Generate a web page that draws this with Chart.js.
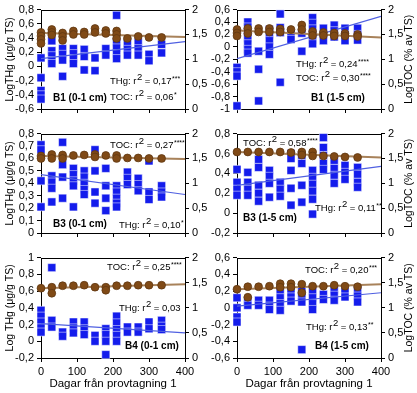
<!DOCTYPE html>
<html>
<head>
<meta charset="utf-8">
<script src="https://cdn.jsdelivr.net/npm/chart.js@4.4.1/dist/chart.umd.min.js"></script>
<style>
  html, body { margin: 0; padding: 0; background: #fff; }
  #wrap { position: relative; width: 417px; height: 393px; overflow: hidden; }
  #wrap canvas { position: absolute; }
</style>
</head>
<body>
<div id="wrap"></div>
<script>
// sampling days (x)
const days = [0, 30, 60, 90, 120, 150, 180, 210, 240, 270, 300, 335];

// B1 (0-1 cm): one inner list per sampling day
const thgB1a = [[0.12, -0.16, -0.34, -0.40, -0.46], [0.36, 0.22, 0.15, 0.08, 0.04], [0.25, 0.17, 0.09, -0.14],
  [0.25, 0.18, 0.11, 0.04], [0.24, 0.14, -0.05], [0.12, -0.06], [0.25, 0.16], [0.72, 0.34, 0.26, 0.18, 0.11],
  [0.33, 0.24, 0.16], [0.34, 0.25, 0.16], [0.17, 0.08], [0.31, 0.19]];
const tocB1a = [[1.54, 1.47, 1.40, 1.32], [1.60, 1.54, 1.49], [1.53, 1.46, 1.38], [1.57, 1.50], [1.55, 1.50],
  [1.62, 1.54], [1.58, 1.52], [1.57, 1.50, 1.42], [1.42], [1.46], [1.44], [1.44]];
const fitThgB1a = [0.11, 0.35];
const fitTocB1a = [1.53, 1.45];

// B1 (1-5 cm)
const thgB1b = [[-0.33, -0.40, -0.47, -0.95], [0.40, 0.32, 0.24, 0.14, 0.05, -0.04, -0.10], [-0.07, -0.36, -0.87],
  [0.28, 0.20, 0.10, 0.00, -0.12], [0.53, 0.31, 0.23, -0.57], [0.21, 0.12], [0.22, -0.07],
  [0.47, 0.38, 0.29, 0.20, 0.11, 0.05], [0.30, 0.20, 0.10], [0.35, 0.26, 0.16], [0.30, 0.20, 0.10], [0.30, 0.20, 0.11]];
const tocB1b = [[1.60, 1.53, 1.47], [1.62, 1.52], [1.62, 1.55], [1.62, 1.55], [1.61, 1.55], [1.60],
  [1.69, 1.60], [1.56, 1.48], [1.54, 1.48], [1.53, 1.47], [1.52, 1.47], [1.50, 1.46]];
const fitThgB1b = [-0.19, 0.49];
const fitTocB1b = [1.58, 1.44];

// B3 (0-1 cm)
const thgB3a = [[0.71, 0.67, 0.42, 0.21], [0.46, 0.41, 0.36, 0.25], [0.73, 0.55, 0.45, 0.28],
  [0.52, 0.47, 0.42, 0.38, 0.21], [0.50, 0.45, 0.40, 0.35, 0.31], [0.67, 0.50, 0.33, 0.24], [0.52, 0.38, 0.28, 0.18],
  [0.38, 0.33, 0.28, 0.24, 0.21], [0.49, 0.44, 0.39], [0.44, 0.39, 0.34], [0.58, 0.33, 0.27], [0.38, 0.33, 0.29]];
const tocB3a = [[1.55, 1.50], [1.58, 1.50], [1.57, 1.50], [1.56], [1.57], [1.58, 1.53], [1.56], [1.56, 1.50],
  [1.51], [1.51], [1.50], [1.50]];
const fitThgB3a = [0.47, 0.31];
const fitTocB3a = [1.55, 1.49];

// B3 (1-5 cm)
const thgB3b = [[0.44, 0.31, 0.24, 0.18], [0.41, 0.31, 0.24, 0.18], [0.54, 0.46, 0.28, 0.20, 0.12],
  [0.43, 0.37, 0.30, 0.16], [0.31, 0.24, 0.17], [0.60, 0.55, 0.43, 0.25, 0.08], [0.58, 0.50, 0.28, 0.11],
  [0.43, 0.36, 0.29, 0.22, 0.14, -0.01], [0.76, 0.66, 0.58, 0.50, 0.44], [0.53, 0.45, 0.38, 0.30],
  [0.48, 0.41, 0.34], [0.46, 0.39, 0.31, 0.26]];
const tocB3b = [[1.63], [1.63], [1.63], [1.63], [1.63], [1.62], [1.63, 1.57], [1.63, 1.55], [1.55], [1.54],
  [1.53], [1.52]];
const fitThgB3b = [0.28, 0.47];
const fitTocB3b = [1.63, 1.52];

// B4 (0-1 cm)
const thgB4a = [[0.37, 0.30, 0.23, 0.16, 0.11], [0.88, 0.25, 0.17], [0.11, 0.06], [0.23, 0.16, 0.10],
  [0.23, 0.15, 0.08], [0.07, 0.00], [0.15, 0.08, 0.00, -0.16], [0.30, 0.22, 0.14, 0.07, 0.00], [0.17, 0.11],
  [0.17, 0.11], [0.23, 0.15], [0.25, 0.18, 0.14]];
const tocB4a = [[1.39], [1.41, 1.29], [1.44], [1.44], [1.45], [1.41], [1.41, 1.35], [1.44], [1.44], [1.45],
  [1.45], [1.45]];
const fitThgB4a = [0.21, 0.10];
const fitTocB4a = [1.39, 1.47];

// B4 (1-5 cm)
const thgB4b = [[0.12, 0.00, -0.11, -0.17], [0.09, 0.03], [0.09, 0.03], [0.09, 0.02, -0.02],
  [0.21, 0.12, 0.05, -0.03], [0.20, 0.13, 0.08], [0.20, 0.13, 0.07, -0.50], [0.20, 0.12, 0.05, -0.02],
  [0.16, 0.10], [0.22, 0.15, 0.09], [0.19, 0.13], [0.21, 0.14, 0.07]];
const tocB4b = [[1.37], [1.42, 1.21], [1.42], [1.43], [1.48, 1.41], [1.48, 1.41], [1.47, 1.30], [1.43], [1.43],
  [1.45], [1.43], [1.42]];
const fitThgB4b = [0.02, 0.18];
const fitTocB4b = [1.37, 1.47];

// left axis ranges [min, max, step]
const yB1a = [-0.6, 0.8, 0.2];
const yB1b = [-1, 0.6, 0.2];
const yB3a = [0, 0.8, 0.1];
const yB3b = [-0.2, 0.8, 0.2];
const yB4a = [-0.2, 1, 0.2];
const yB4b = [-0.6, 0.6, 0.2];
const yToc = [0, 2, 0.5];
const xDays = [0, 400, 100];

const FONT = '"Liberation Sans", Arial, Helvetica, sans-serif';
const blue = 'rgb(20, 28, 236)';
const brown = 'rgb(128, 74, 22)';
const brownEdge = 'rgb(95, 55, 18)';
const blueLine = 'rgb(80, 96, 225)';
const brownLine = 'rgb(168, 130, 90)';

Chart.defaults.font.family = FONT;
Chart.defaults.font.size = 11;
Chart.defaults.color = '#000';

const panels = [
  { row: 0, col: 0, thg: thgB1a, toc: tocB1a, fThg: fitThgB1a, fToc: fitTocB1a, y: yB1a, title: 'LogTHg (μg/g TS)',
    notes: [{ dx: 69, dy: 72, lead: 'THg: r', val: ' = 0,17', stars: '***' },
            { dx: 69, dy: 88, lead: 'TOC: r', val: ' = 0,06', stars: '*' },
            { dx: 12, dy: 89, bold: 'B1 (0-1 cm)' }] },
  { row: 0, col: 1, thg: thgB1b, toc: tocB1b, fThg: fitThgB1b, fToc: fitTocB1b, y: yB1b,
    notes: [{ dx: 59, dy: 55, lead: 'THg: r', val: ' = 0,24', stars: '****' },
            { dx: 59, dy: 69, lead: 'TOC: r', val: ' = 0,30', stars: '****' },
            { dx: 74, dy: 89, bold: 'B1 (1-5 cm)' }] },
  { row: 1, col: 0, thg: thgB3a, toc: tocB3a, fThg: fitThgB3a, fToc: fitTocB3a, y: yB3a, title: 'LogTHg (μg/g TS)',
    notes: [{ dx: 69, dy: 12, lead: 'TOC: r', val: ' = 0,27', stars: '****' },
            { dx: 78, dy: 92, lead: 'THg: r', val: ' = 0,10', stars: '*' },
            { dx: 12, dy: 91, bold: 'B3 (0-1 cm)' }] },
  { row: 1, col: 1, thg: thgB3b, toc: tocB3b, fThg: fitThgB3b, fToc: fitTocB3b, y: yB3b,
    notes: [{ dx: 6, dy: 10, lead: 'TOC: r', val: ' = 0,58', stars: '****' },
            { dx: 78, dy: 75, lead: 'THg: r', val: ' = 0,11', stars: '**' },
            { dx: 6, dy: 85, bold: 'B3 (1-5 cm)' }] },
  { row: 2, col: 0, thg: thgB4a, toc: tocB4a, fThg: fitThgB4a, fToc: fitTocB4a, y: yB4a, title: 'Log THg (μg/g TS)',
    notes: [{ dx: 66, dy: 10, lead: 'TOC: r', val: ' = 0,25', stars: '****' },
            { dx: 78, dy: 51, lead: 'THg: r', val: ' = 0,03', stars: '' },
            { dx: 84, dy: 89, bold: 'B4 (0-1 cm)' }] },
  { row: 2, col: 1, thg: thgB4b, toc: tocB4b, fThg: fitThgB4b, fToc: fitTocB4b, y: yB4b,
    notes: [{ dx: 68, dy: 13, lead: 'TOC: r', val: ' = 0,20', stars: '***' },
            { dx: 69, dy: 70, lead: 'THg: r', val: ' = 0,13', stars: '**' },
            { dx: 78, dy: 89, bold: 'B4 (1-5 cm)' }] }
];

const rowTop = [0, 124, 248];
const rowH = [124, 124, 145];
const colLeft = [0, 208];
const colW = [208, 209];

function pts(vals) {
  return days.flatMap((d, i) => vals[i].map(v => ({ x: d, y: v })));
}
function fitPts(ends) {
  return [{ x: xDays[0], y: ends[0] }, { x: xDays[1], y: ends[1] }];
}
function fmt(v) {
  return String(Math.round(v * 10) / 10).replace('.', ',');
}

function drawNote(ctx, x, y, n) {
  ctx.fillStyle = '#000';
  ctx.textBaseline = 'middle';
  ctx.textAlign = 'left';
  if (n.bold) {
    ctx.font = 'bold 10px ' + FONT;
    ctx.fillText(n.bold, x, y);
    return;
  }
  ctx.font = '9.5px ' + FONT;
  ctx.fillText(n.lead, x, y);
  x += ctx.measureText(n.lead).width + 0.5;
  ctx.fillText('2', x, y - 4);
  x += ctx.measureText('2').width;
  ctx.fillText(n.val, x, y);
  x += ctx.measureText(n.val).width + 0.5;
  if (n.stars) {
    ctx.font = '7px ' + FONT;
    ctx.fillText(n.stars, x, y - 3);
  }
}

function decoPlugin(p) {
  return {
    id: 'deco',
    beforeDatasetsDraw(chart) {
      const { ctx, chartArea: a } = chart;
      ctx.save();
      ctx.strokeStyle = '#000';
      ctx.lineWidth = 1;
      ctx.strokeRect(Math.round(a.left) + 0.5, Math.round(a.top) + 0.5,
        Math.round(a.right - a.left), Math.round(a.bottom - a.top));
      ctx.restore();
    },
    afterDraw(chart) {
      const { ctx, chartArea: a } = chart;
      ctx.save();
      p.notes.forEach(n => drawNote(ctx, a.left + n.dx, a.top + n.dy, n));
      if (p.col === 1) {
        ctx.translate(chart.width - 8, (a.top + a.bottom) / 2);
        ctx.rotate(-Math.PI / 2);
        ctx.font = '10.5px ' + FONT;
        ctx.textAlign = 'center';
        ctx.textBaseline = 'middle';
        ctx.fillText('LogTOC (% av TS)', 0, 0);
      }
      ctx.restore();
    }
  };
}

const tickGrid = { drawOnChartArea: false, drawTicks: true, tickLength: 4, color: '#000', lineWidth: 1 };
const wrap = document.getElementById('wrap');

panels.forEach(p => {
  const canvas = document.createElement('canvas');
  canvas.width = colW[p.col];
  canvas.height = rowH[p.row];
  canvas.style.left = colLeft[p.col] + 'px';
  canvas.style.top = rowTop[p.row] + 'px';
  wrap.appendChild(canvas);

  const left = p.col === 0;
  const bottom = p.row === 2;

  new Chart(canvas.getContext('2d'), {
    type: 'scatter',
    data: {
      datasets: [
        { data: pts(p.toc), yAxisID: 'y2', pointStyle: 'circle', pointRadius: 3.9, backgroundColor: brown,
          borderColor: brownEdge, borderWidth: 0.8, order: 0, clip: false },
        { data: fitPts(p.fToc), yAxisID: 'y2', showLine: true, pointRadius: 0, borderColor: brownLine,
          borderWidth: 2, order: 1 },
        { data: fitPts(p.fThg), yAxisID: 'y', showLine: true, pointRadius: 0, borderColor: blueLine,
          borderWidth: 1.2, order: 2 },
        { data: pts(p.thg), yAxisID: 'y', pointStyle: 'rect', pointRadius: 5.7, backgroundColor: blue,
          borderColor: 'rgba(255,255,255,0.85)', borderWidth: 0.6, order: 3, clip: false }
      ]
    },
    options: {
      responsive: false,
      animation: false,
      events: [],
      layout: { padding: { top: bottom ? 9 : 8, left: 0, right: 0, bottom: 0 } },
      plugins: { legend: { display: false }, tooltip: { enabled: false } },
      scales: {
        x: {
          type: 'linear', min: xDays[0], max: xDays[1],
          ticks: { stepSize: xDays[2], maxRotation: 0, autoSkip: false, padding: 3,
            callback: v => bottom ? String(v) : '' },
          grid: tickGrid, border: { display: false },
          title: { display: bottom, text: 'Dagar från provtagning 1', font: { size: 11.5 },
            padding: { top: 0, bottom: 2 } },
          afterFit: s => { s.height = bottom ? 35 : 15; }
        },
        y: {
          type: 'linear', position: 'left', min: p.y[0], max: p.y[1],
          ticks: { stepSize: p.y[2], autoSkip: false, padding: 3, callback: fmt },
          grid: tickGrid, border: { display: false },
          title: { display: left, text: p.title || '', font: { size: 10.5 }, padding: { top: 4, bottom: 0 } },
          afterFit: s => { s.width = left ? 41 : 29; }
        },
        y2: {
          type: 'linear', position: 'right', min: yToc[0], max: yToc[1],
          ticks: { stepSize: yToc[2], autoSkip: false, padding: 3, callback: fmt },
          grid: tickGrid, border: { display: false },
          afterFit: s => { s.width = left ? 23 : 36; }
        }
      }
    },
    plugins: [decoPlugin(p)]
  });
});
</script>
</body>
</html>
